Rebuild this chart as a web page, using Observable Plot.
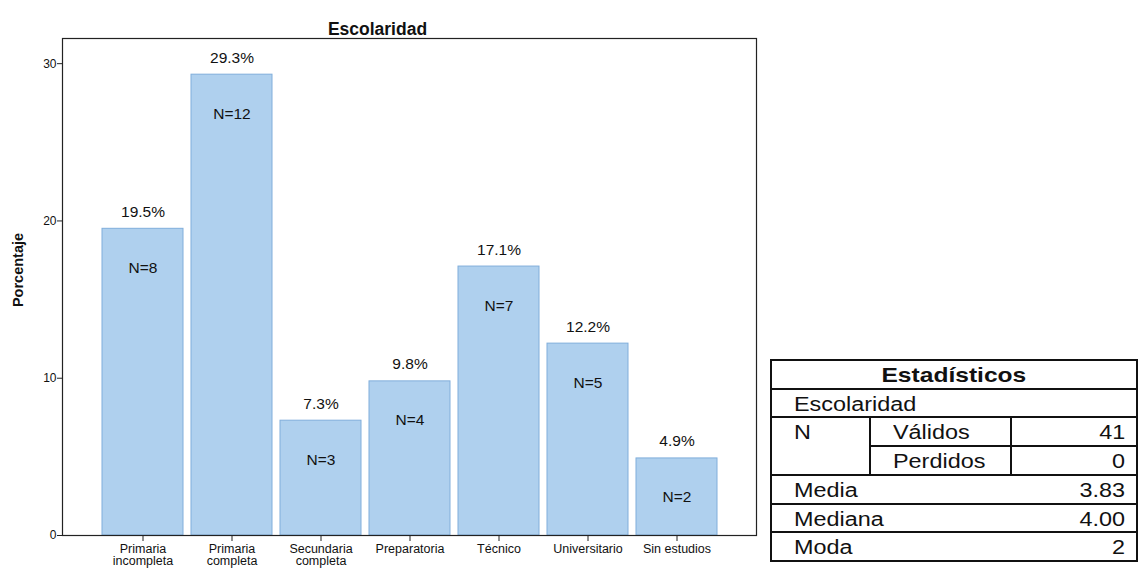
<!DOCTYPE html>
<html>
<head>
<meta charset="utf-8">
<script src="https://cdn.jsdelivr.net/npm/d3@7"></script>
<script src="https://cdn.jsdelivr.net/npm/@observablehq/plot@0.6"></script>
<style>
  html, body { margin: 0; padding: 0; background: #fff; }
  #page { position: relative; width: 1138px; height: 573px; overflow: hidden;
          font-family: "Liberation Sans", Arial, sans-serif; }
  #chart { position: absolute; left: 0; top: 0; }
  #stats { position: absolute; left: 0; top: 0; }
  .ln { position: absolute; background: #111; }
  .cell { position: absolute; font-size: 20px; line-height: 28px; color: #111; white-space: nowrap; }
  .cell span { display: inline-block; transform: scaleX(1.17); }
  .l span { transform-origin: left center; }
  .r span { transform-origin: right center; }
  .c span { transform-origin: center center; }
</style>
</head>
<body>
<div id="page">
  <div id="chart"></div>
  <div id="stats"></div>
</div>
<script>
// Escolaridad: categories, percentage of cases and counts
const categories = [
  "Primaria\nincompleta",
  "Primaria\ncompleta",
  "Secundaria\ncompleta",
  "Preparatoria",
  "Técnico",
  "Universitario",
  "Sin estudios"
];
const percentages = [19.5, 29.3, 7.3, 9.8, 17.1, 12.2, 4.9];
const counts = [8, 12, 3, 4, 7, 5, 2];
const yTicks = [0, 10, 20, 30];

// Statistics table
const statTitle = "Estadísticos";
const statVariable = "Escolaridad";
const nLabel = "N";
const nRows = [["Válidos", "41"], ["Perdidos", "0"]];
const summaryRows = [["Media", "3.83"], ["Mediana", "4.00"], ["Moda", "2"]];

const data = categories.map((c, i) => ({cat: c, pct: percentages[i], n: counts[i]}));

const chart = Plot.plot({
  width: 760,
  height: 573,
  marginTop: 38,
  marginLeft: 62,
  marginRight: 4,
  marginBottom: 38,
  style: {fontFamily: "'Liberation Sans', Arial, sans-serif", color: "#111", background: "#fff"},
  x: {domain: categories, paddingInner: 0.09, paddingOuter: 0.44, label: null},
  y: {domain: [0, 31.6], label: null},
  marks: [
    Plot.barY(data, {x: "cat", y: "pct", fill: "#afd0ee", stroke: "#80aedb", strokeWidth: 1}),
    Plot.text(data, {x: "cat", y: "pct", text: d => d.pct.toFixed(1) + "%", dy: -17, fontSize: 15.5, fill: "#111"}),
    Plot.text(data, {x: "cat", y: "pct", text: d => "N=" + d.n, dy: 39, fontSize: 15.5, fill: "#111"}),
    Plot.axisY({ticks: yTicks, tickSize: 5, tickPadding: 1, fontSize: 12, stroke: "#222", label: null}),
    Plot.axisX({tickSize: 6, tickPadding: 3, fontSize: 12.5, stroke: "#222", label: null, lineHeight: 0.95}),
    Plot.frame({stroke: "#222", strokeWidth: 1.2}),
    Plot.text(["Escolaridad"], {frameAnchor: "top", dx: -32, dy: -16, fontWeight: "bold", fontSize: 17.5, fill: "#111"}),
    Plot.text(["Porcentaje"], {frameAnchor: "left", textAnchor: "middle", rotate: -90, dx: -44, dy: -17, fontWeight: "bold", fontSize: 14.5, fill: "#111"})
  ]
});
document.getElementById("chart").appendChild(chart);

// Table drawn with positioned boxes
const stats = document.getElementById("stats");
const L = 771, R = 1137, C1 = 870, C2 = 1011, T = 360, rowH = 28.7, rows = 7, lw = 2;
const rowY = i => T + i * rowH;
function line(x, y, w, h) {
  const d = document.createElement("div");
  d.className = "ln";
  Object.assign(d.style, {left: x + "px", top: y + "px", width: w + "px", height: h + "px"});
  stats.appendChild(d);
}
function cell(text, x0, x1, row, align, bold) {
  const d = document.createElement("div");
  d.className = "cell " + align;
  const pad = 23;
  const style = {top: (rowY(row) + 1) + "px", height: rowH + "px", width: (x1 - x0 - (align === "c" ? 0 : pad + 12)) + "px",
                 textAlign: align === "l" ? "left" : align === "r" ? "right" : "center"};
  style.left = (align === "l" ? x0 + pad : align === "r" ? x0 + pad : x0) + "px";
  if (bold) { style.fontWeight = "bold"; style.fontSize = "21px"; }
  Object.assign(d.style, style);
  const s = document.createElement("span");
  s.textContent = text;
  d.appendChild(s);
  stats.appendChild(d);
}
// outer border
line(L, T - 1, R - L, lw);
line(L, rowY(rows) - 1, R - L, lw);
line(L - 1, T - 1, lw, rowY(rows) - T + lw);
line(R - 1, T - 1, lw, rowY(rows) - T + lw);
// horizontal rules
[1, 2, 4, 5, 6].forEach(i => line(L, rowY(i) - 1, R - L, lw));
line(C1, rowY(3) - 1, R - C1, lw);
// vertical rules in the N block
line(C1 - 1, rowY(2), lw, rowH * 2);
line(C2 - 1, rowY(2), lw, rowH * 2);

cell(statTitle, L, R, 0, "c", true);
cell(statVariable, L, R, 1, "l");
cell(nLabel, L, C1, 2, "l");
nRows.forEach((r, i) => {
  cell(r[0], C1, C2, 2 + i, "l");
  cell(r[1], C2 - 10, R, 2 + i, "r");
});
summaryRows.forEach((r, i) => {
  cell(r[0], L, R, 4 + i, "l");
  cell(r[1], L, R, 4 + i, "r");
});
</script>
</body>
</html>
